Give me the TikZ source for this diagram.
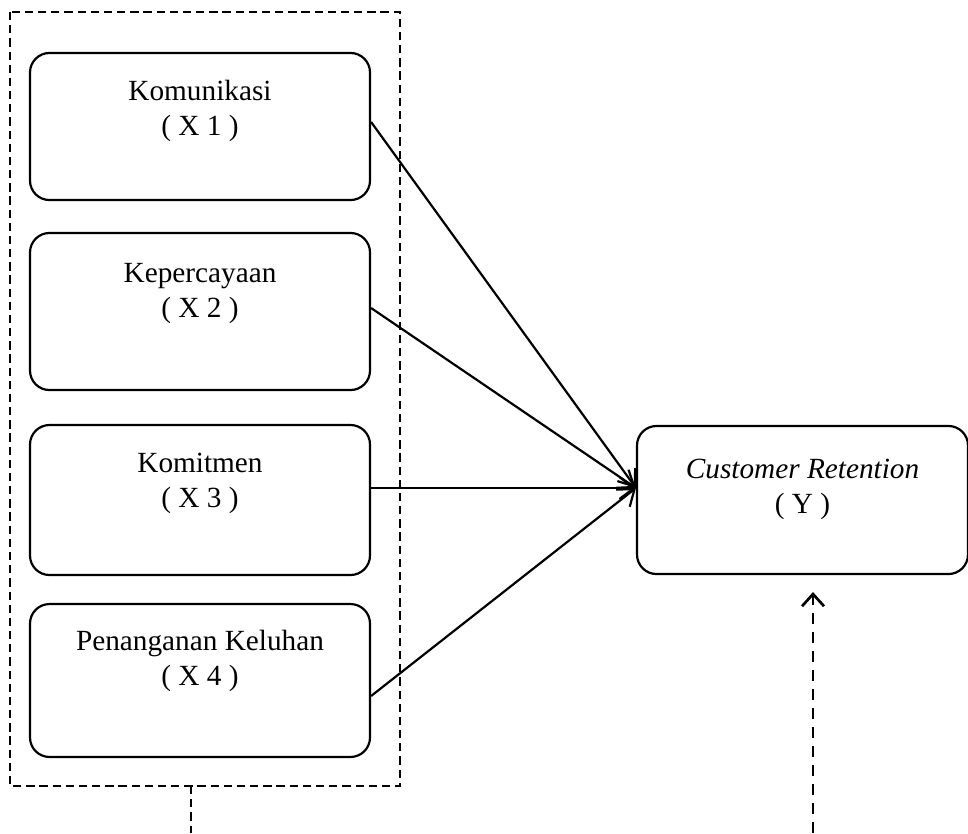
\documentclass[tikz,border=0pt]{standalone}
\usepackage{fontspec}
\setmainfont{Liberation Serif}
\usetikzlibrary{arrows.meta,calc,positioning}

\tikzset{
  varbox/.style={draw, rounded corners=8pt, line width=0.9pt, minimum width=139.4pt, inner sep=0pt},
  vartext/.style={anchor=north, align=center, inner sep=0pt, font=\fontsize{12}{14.4}\selectfont},
  panah/.style={line width=0.9pt, -{Straight Barb[length=6pt,width=9pt]}},
  garis/.style={line width=0.7pt, dash pattern=on 3.4pt off 2pt},
}

\begin{document}
\begin{tikzpicture}[x=0.41pt, y=-0.41pt]
            \useasboundingbox (0,0) rectangle (968,833);
            % variabel bebas
            \node[varbox, minimum height=60.3pt] (x1) at (200,126.5) {};
            \node[varbox, minimum height=64.4pt] (x2) at (200,311.5) {};
            \node[varbox, minimum height=61.5pt] (x3) at (200,500) {};
            \node[varbox, minimum height=62.7pt] (x4) at (200,680.5) {};
            \node[vartext] (t1) at ($(x1.north)+(0,28)$) {Komunikasi\\( X 1 )};
            \node[vartext] (t2) at ($(x2.north)+(0,31)$) {Kepercayaan\\( X 2 )};
            \node[vartext] (t3) at ($(x3.north)+(0,29)$) {Komitmen\\( X 3 )};
            \node[vartext] (t4) at ($(x4.north)+(0,27)$) {Penanganan Keluhan\\( X 4 )};
            % variabel terikat
            \node[varbox, minimum width=135.7pt, minimum height=60.7pt] (cr) at (802.5,500) {};
            \node[vartext] (tcr) at ($(cr.north)+(0,34)$) {\textit{Customer Retention}\\( Y )};
            % panah
            \coordinate (T) at ($(cr.west)+(0,-12)$);
            \draw[panah] ($(x1.east)+(0,-4.5)$) -- (T);
            \draw[panah] ($(x2.east)+(0,-3.5)$) -- (T);
            \draw[panah] ($(x3.east)+(0,-12)$) -- (T);
            \draw[panah] ($(x4.east)+(0,15.5)$) -- (T);
            % garis putus-putus
            \coordinate (G1) at (10,12);
            \coordinate (G2) at (400,786);
            \draw[garis] (G1) rectangle (G2);
            \coordinate (B1) at (191,786);
            \coordinate (B2) at (191,833);
            \draw[garis] (B1) -- (B2);
            \coordinate (R1) at (813,833);
            \coordinate (R2) at (813,592);
            \draw[line width=1.1pt, dash pattern=on 4.5pt off 3.3pt, -{Straight Barb[length=5pt,width=9pt]}] (R1) -- (R2);
        \end{tikzpicture}
\end{document}
